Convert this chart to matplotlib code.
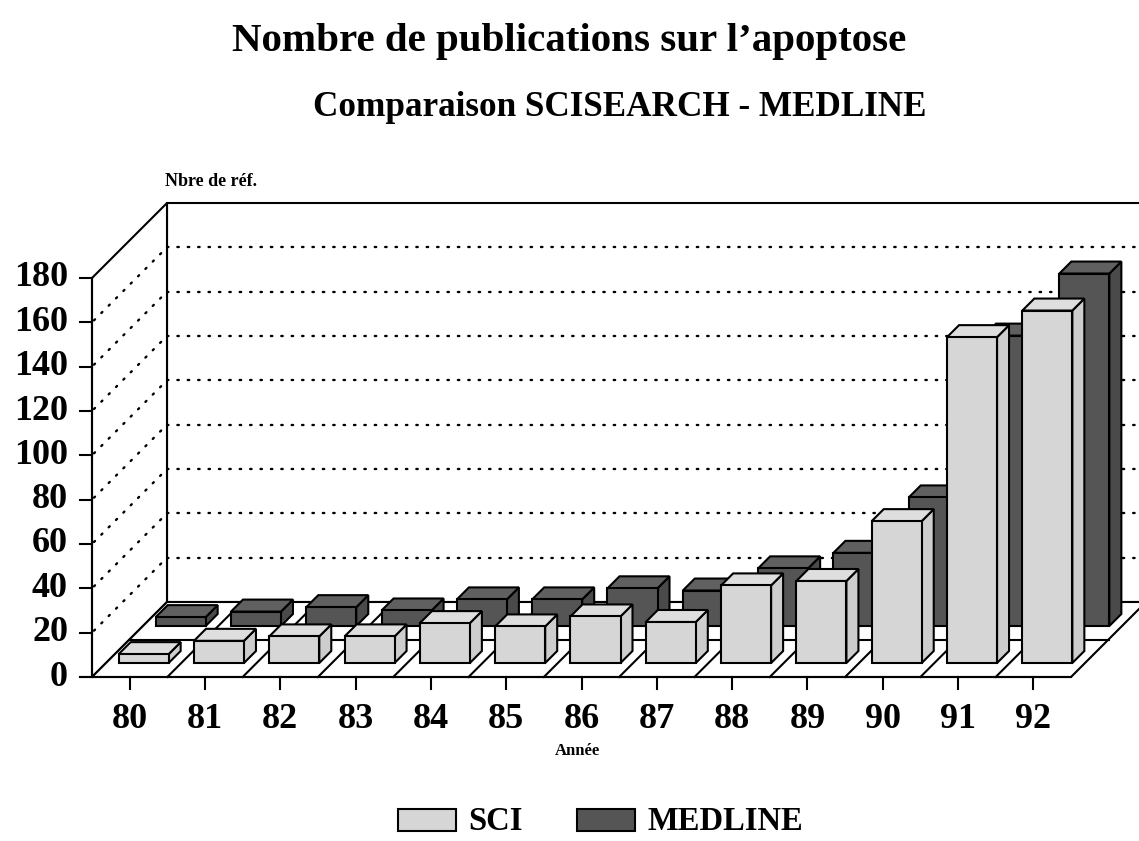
import matplotlib
matplotlib.use("Agg")
import matplotlib.pyplot as plt
from matplotlib.patches import Polygon, Rectangle

# --------------------------
# Data
# --------------------------
years = ["80", "81", "82", "83", "84", "85", "86", "87", "88", "89", "90", "91", "92"]
sci = [4, 10, 12, 12, 18, 16.5, 21, 18.5, 35, 37, 64, 147, 159]
medline = [4, 6.5, 8.5, 7, 12, 12, 17, 16, 26, 33, 58, 131, 159]
y_ticks = [0, 20, 40, 60, 80, 100, 120, 140, 160, 180]

SERIF = "Liberation Serif"
W, H = 1139, 841

# front plane of the box, in pixels
X0, X1 = 92, 1071   # left / right of the floor front edge
Y0, Y1 = 677, 278   # value 0 / value 180

fig = plt.figure(figsize=(W / 100, H / 100), dpi=100)
ax = fig.add_axes([X0 / W, 1 - Y0 / H, (X1 - X0) / W, (Y0 - Y1) / H])
ax.set_xlim(-0.5, len(years) - 0.5)
ax.set_ylim(0, 180)
ax.axis("off")

# oblique depth: d pixels back = d pixels right and d pixels up
kx = len(years) / (X1 - X0)
ky = 180 / (Y0 - Y1)
DEPTH = 75


def P(x, v, d=0):
    return (x + d * kx, v + d * ky)


def line(pts, **kw):
    xs, ys = zip(*pts)
    kw.setdefault("color", "black")
    kw.setdefault("lw", 1.5)
    ax.plot(xs, ys, clip_on=False, solid_capstyle="projecting", **kw)


def poly(pts, fc, lw=1.5, z=2):
    ax.add_patch(Polygon(pts, closed=True, fc=fc, ec="black", lw=lw,
                         joinstyle="miter", clip_on=False, zorder=z))


xl, xr = -0.5, len(years) - 0.5

# --------------------------
# Walls and floor
# --------------------------
poly([P(xl, 0, DEPTH), P(xr, 0, DEPTH), P(xr, 180, DEPTH), P(xl, 180, DEPTH)], "white", z=1)
poly([P(xl, 0, 0), P(xl, 0, DEPTH), P(xl, 180, DEPTH), P(xl, 180, 0)], "white", z=1)
poly([P(xl, 0, 0), P(xr, 0, 0), P(xr, 0, DEPTH), P(xl, 0, DEPTH)], "white", z=1)

dot = dict(color="black", lw=1.7, linestyle=(0, (0.6, 3.8)), dash_capstyle="round", zorder=1.5)
for v in y_ticks[1:-1]:
    line([P(xl, v, 2), P(xl, v, DEPTH)], **dot)
    line([P(xl, v, DEPTH), P(xr + 1, v, DEPTH)], **dot)

# floor: category separators and middle line
for i in range(1, len(years)):
    line([P(i - 0.5, 0, 0), P(i - 0.5, 0, DEPTH)], zorder=1.6)
line([P(xl, 0, DEPTH / 2), P(xr, 0, DEPTH / 2)], zorder=1.6)

# --------------------------
# Bars
# --------------------------
HALF = 0.332
BAR_D = 12


def bar(xc, v, d0, front, top, side):
    a, b = xc - HALF, xc + HALF
    d1 = d0 + BAR_D
    poly([P(b, 0, d0), P(b, 0, d1), P(b, v, d1), P(b, v, d0)], side, z=3)
    poly([P(a, v, d0), P(b, v, d0), P(b, v, d1), P(a, v, d1)], top, z=3)
    poly([P(a, 0, d0), P(b, 0, d0), P(b, v, d0), P(a, v, d0)], front, z=3)


for i, v in enumerate(medline):
    bar(i, v, 51, "#555555", "#606060", "#4a4a4a")
for i, v in enumerate(sci):
    bar(i, v, 14, "#d6d6d6", "#dedede", "#cdcdcd")

# --------------------------
# Axes lines, ticks and labels
# --------------------------
tick = 12
line([P(xl, 0, 0), P(xl, 180, 0)], zorder=4)
line([P(xl - tick * kx, 0), P(xr, 0)], zorder=4)
for v in y_ticks:
    line([(xl - tick * kx, v), (xl, v)], zorder=4)
    ax.text(xl - 24 * kx, v, str(v), ha="right", va="center", fontsize=26,
            fontweight="bold", family=SERIF)
for i, lab in enumerate(years):
    line([(i, 0), (i, -tick * ky)], zorder=4)
    ax.text(i, -42 * ky, lab, ha="center", va="center", fontsize=26,
            fontweight="bold", family=SERIF)


def ftext(x, y, s, **kw):
    fig.text(x / W, 1 - y / H, s, family=SERIF, fontweight="bold", **kw)


ftext(569, 41, "Nombre de publications sur l\u2019apoptose", ha="center", va="center", fontsize=29.5)
ftext(620, 107, "Comparaison SCISEARCH - MEDLINE", ha="center", va="center", fontsize=25.3)
ftext(165, 182, "Nbre de réf.", ha="left", va="center", fontsize=13)
ftext(577, 751, "Année", ha="center", va="center", fontsize=12)

# --------------------------
# Legend
# --------------------------
for x, color, label in [(398, "#d6d6d6", "SCI"), (577, "#555555", "MEDLINE")]:
    fig.add_artist(Rectangle((x / W, 1 - 831 / H), 58 / W, 22 / H, transform=fig.transFigure,
                             fc=color, ec="black", lw=1.5))
    ftext(x + 70, 821, label, ha="left", va="center", fontsize=23.5)

fig.savefig("out.png", dpi=100, facecolor="white")
